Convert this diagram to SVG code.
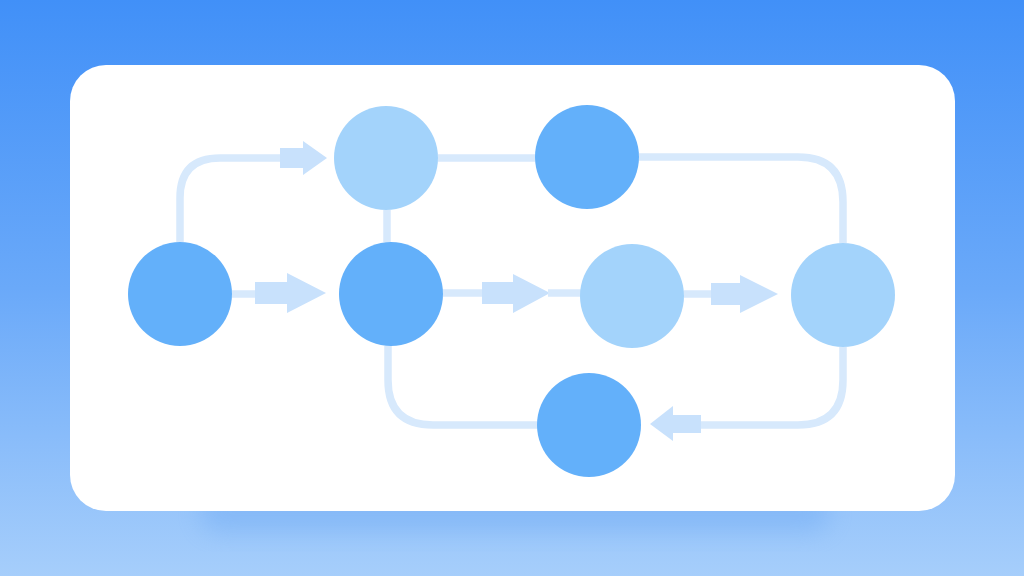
<svg xmlns="http://www.w3.org/2000/svg" width="1024" height="576" viewBox="0 0 1024 576">
  <defs>
    <linearGradient id="bg" x1="0" y1="0" x2="0" y2="1">
      <stop offset="0" stop-color="#4190f8"/>
      <stop offset="0.5" stop-color="#6aa9f9"/>
      <stop offset="1" stop-color="#a6cefb"/>
    </linearGradient>
    <filter id="shadow" x="-20%" y="-50%" width="140%" height="200%">
      <feGaussianBlur stdDeviation="12"/>
    </filter>
    <style>
      .dark { fill: #63b0fa; }
      .light { fill: #a3d3fb; }
      .line { fill: none; stroke: #d7e9fc; stroke-width: 7.5; stroke-linecap: butt; }
      .arrow { fill: #c8e1fc; }
    </style>
  </defs>
  <rect width="1024" height="576" fill="url(#bg)"/>
  <rect x="200" y="492" width="630" height="40" rx="20" fill="#5a9cf0" opacity="0.3" filter="url(#shadow)"/>
  <rect x="70" y="65" width="885" height="446" rx="36" fill="#ffffff"/>

  <g id="connectors">
    <path class="line" d="M180 242 V198 Q180 158 220 158 H282"/>
    <path class="arrow" d="M280 148 H303 V141 L327 158 L303 175 V168 H280 Z"/>
    <path class="line" d="M438 158 H535"/>
    <path class="line" d="M639 157 H798 Q843 157 843 202 V243"/>
    <path class="line" d="M387 210 V242"/>
    <path class="line" d="M232 294 H257"/>
    <path class="arrow" d="M255 282 H287 V273 L326 293 L287 313 V304 H255 Z"/>
    <path class="line" d="M443 293 H484"/>
    <path class="arrow" d="M482 282 H513 V274 L550 293 L513 313 V304 H482 Z"/>
    <path class="line" d="M548 293 H581"/>
    <path class="line" d="M684 294 H713"/>
    <path class="arrow" d="M711 283 H740 V275 L778 294 L740 313 V305 H711 Z"/>
    <path class="line" d="M388 346 V380 Q388 425 433 425 H538"/>
    <path class="line" d="M843 347 V380 Q843 425 798 425 H699"/>
    <path class="arrow" d="M701 415 H673 V406 L650 424 L673 441 V433 H701 Z"/>
  </g>

  <g id="node-a"><circle class="dark" cx="180" cy="294" r="52"/></g>
  <g id="node-b"><circle class="light" cx="386" cy="158" r="52"/></g>
  <g id="node-c"><circle class="dark" cx="587" cy="157" r="52"/></g>
  <g id="node-d"><circle class="dark" cx="391" cy="294" r="52"/></g>
  <g id="node-e"><circle class="light" cx="632" cy="296" r="52"/></g>
  <g id="node-f"><circle class="light" cx="843" cy="295" r="52"/></g>
  <g id="node-g"><circle class="dark" cx="589" cy="425" r="52"/></g>
</svg>
